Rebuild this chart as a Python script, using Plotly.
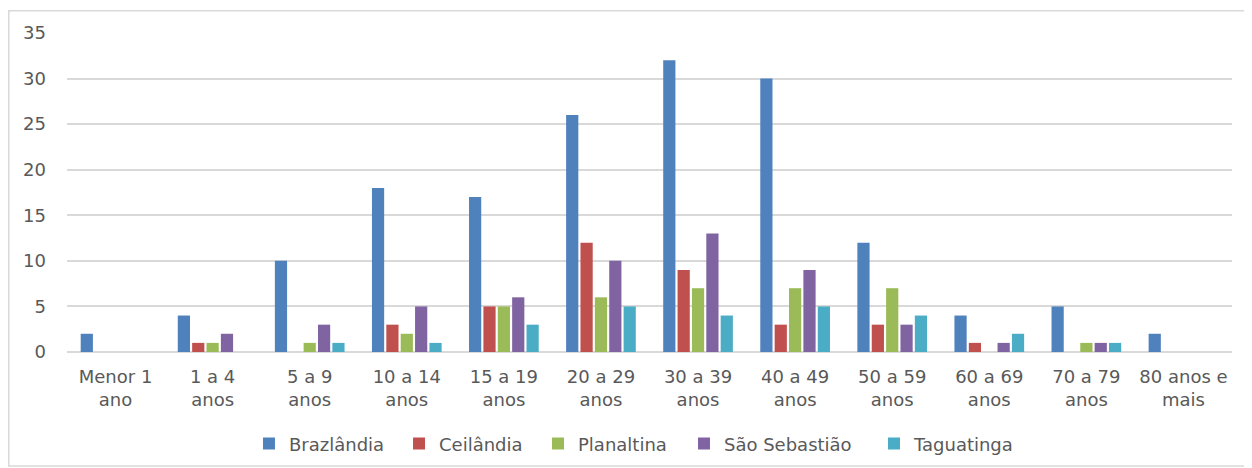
import plotly.graph_objects as go

categories = ["Menor 1<br>ano", "1 a 4<br>anos", "5 a 9<br>anos", "10 a 14<br>anos", "15 a 19<br>anos",
              "20 a 29<br>anos", "30 a 39<br>anos", "40 a 49<br>anos", "50 a 59<br>anos",
              "60 a 69<br>anos", "70 a 79<br>anos", "80 anos e<br>mais"]
brazlandia = [2, 4, 10, 18, 17, 26, 32, 30, 12, 4, 5, 2]
ceilandia = [0, 1, 0, 3, 5, 12, 9, 3, 3, 1, 0, 0]
planaltina = [0, 1, 1, 2, 5, 6, 7, 7, 7, 0, 1, 0]
sao_sebastiao = [0, 2, 3, 5, 6, 10, 13, 9, 3, 1, 1, 0]
taguatinga = [0, 0, 1, 1, 3, 5, 4, 5, 4, 2, 1, 0]

series = [
    ("Brazlândia", brazlandia, "#4F81BD"),
    ("Ceilândia", ceilandia, "#C0504D"),
    ("Planaltina", planaltina, "#9BBB59"),
    ("São Sebastião", sao_sebastiao, "#8064A2"),
    ("Taguatinga", taguatinga, "#4BACC6"),
]

# legend entry positions (paper x of each entry's left edge)
legend_x = [0.1562, 0.2850, 0.4043, 0.5296, 0.6927]

fig = go.Figure()
legend_layouts = {}
for i, (name, vals, color) in enumerate(series):
    lname = "legend" if i == 0 else f"legend{i + 1}"
    fig.add_trace(go.Bar(x=categories, y=vals, name=name, marker_color=color,
                         marker_line_width=0, legend=lname, showlegend=True))
    legend_layouts[lname] = dict(orientation="h", x=legend_x[i], xanchor="left",
                                 y=-0.288, yanchor="middle", bgcolor="rgba(0,0,0,0)",
                                 font=dict(size=18, color="#595959"))

fig.update_layout(
    width=1244, height=460, showlegend=True,
    barmode="group", bargap=0.26, bargroupgap=0.15,
    paper_bgcolor="white", plot_bgcolor="white",
    margin=dict(l=59, r=20, t=25, b=116, autoexpand=False),
    font=dict(family="DejaVu Sans", size=18, color="#595959"),
    yaxis=dict(range=[0, 35], dtick=5, gridcolor="#D9D9D9", gridwidth=1.5,
               zeroline=True, zerolinecolor="#D9D9D9", zerolinewidth=1.5, ticks="", showline=False,
               tickfont=dict(size=18), automargin=False, ticklabelstandoff=20),
    xaxis=dict(showline=False, ticks="", tickfont=dict(size=18), automargin=False,
               ticklabelstandoff=12),
    shapes=[dict(type="rect", xref="paper", yref="paper", x0=-0.050, x1=1.0155, y0=-0.357, y1=1.070,
                 line=dict(color="#D9D9D9", width=1.5))],
    **legend_layouts,
)

fig.write_html("out.html")
